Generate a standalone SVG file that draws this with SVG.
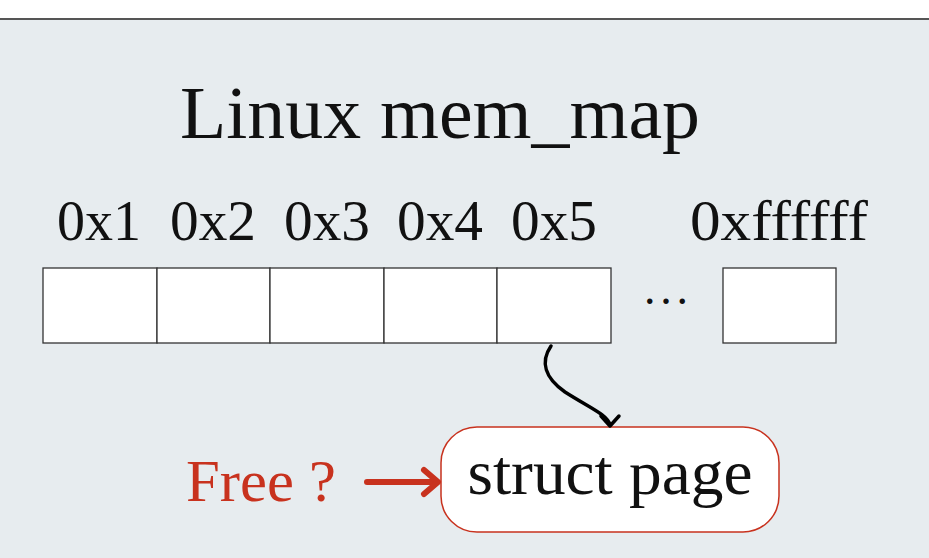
<svg xmlns="http://www.w3.org/2000/svg" width="929" height="558" viewBox="0 0 929 558">
<style>
.t{font-family:"Liberation Serif","DejaVu Serif",serif;fill:#111}
.cell{fill:#fff;stroke:#333;stroke-width:1.3}
</style>
<rect x="-6" y="19" width="945" height="560" rx="6" fill="#e7ecef" stroke="#555" stroke-width="2"/>
<g id="title"><text class="t" x="440" y="138" font-size="74" text-anchor="middle" textLength="520" lengthAdjust="spacingAndGlyphs">Linux mem_map</text></g>
<g id="labels" class="t" font-size="58" text-anchor="middle">
<text x="99" y="240" textLength="84" lengthAdjust="spacingAndGlyphs">0x1</text>
<text x="213" y="240" textLength="86" lengthAdjust="spacingAndGlyphs">0x2</text>
<text x="327" y="240" textLength="86" lengthAdjust="spacingAndGlyphs">0x3</text>
<text x="440" y="240" textLength="86" lengthAdjust="spacingAndGlyphs">0x4</text>
<text x="554" y="240" textLength="86" lengthAdjust="spacingAndGlyphs">0x5</text>
<text x="779" y="240" textLength="178" lengthAdjust="spacingAndGlyphs">0xffffff</text>
</g>
<g id="cells">
<rect class="cell" x="43" y="268" width="114" height="75"/>
<rect class="cell" x="157" y="268" width="113" height="75"/>
<rect class="cell" x="270" y="268" width="114" height="75"/>
<rect class="cell" x="384" y="268" width="113" height="75"/>
<rect class="cell" x="497" y="268" width="114" height="75"/>
<rect class="cell" x="723" y="268" width="113" height="75"/>
</g>
<g id="dots"><text class="t" x="666" y="304" font-size="46" text-anchor="middle" textLength="44" lengthAdjust="spacing">...</text></g>
<g id="struct-page">
<rect x="441" y="427" width="338" height="105" rx="36" fill="#fff" stroke="#c8321e" stroke-width="1.5"/>
<text class="t" x="610" y="494" font-size="64" text-anchor="middle" textLength="285" lengthAdjust="spacingAndGlyphs">struct page</text>
</g>
<g id="free"><text x="261" y="501" font-size="60" text-anchor="middle" font-family="Liberation Serif, serif" fill="#c8321e" textLength="150" lengthAdjust="spacingAndGlyphs">Free ?</text></g>
<g id="connectors" fill="none" stroke-linecap="round" stroke-linejoin="round">
<path d="M551 346 C540 362 545 378 565 392 C590 408 608 415 610 425" stroke="#000" stroke-width="3.5"/>
<path d="M601 416 L610 426 L619 416" stroke="#000" stroke-width="3.5"/>
<path d="M367 482 L436 482" stroke="#c8321e" stroke-width="6"/>
<path d="M424 470 L438 482 L424 494" stroke="#c8321e" stroke-width="6"/>
</g>
</svg>
